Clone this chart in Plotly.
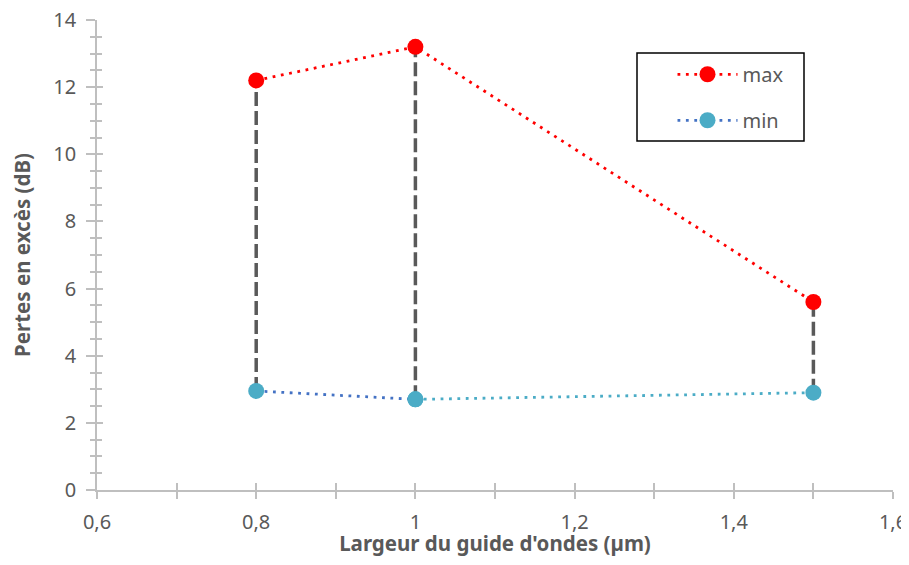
import plotly.graph_objects as go

# Data
widths = [0.8, 1.0, 1.5]
loss_max = [12.2, 13.2, 5.6]
loss_min = [2.95, 2.7, 2.9]

x_tickvals = [0.6, 0.8, 1.0, 1.2, 1.4, 1.6]
y_tickvals = [0, 2, 4, 6, 8, 10, 12, 14]

RED = "#FF0000"
BLUE = "#4472C4"
TEAL = "#4BACC6"
GRAY = "#595959"
AXIS = "#BFBFBF"
FONT = "Noto Sans"

fig = go.Figure()

# high-low connector lines
hx, hy = [], []
for xv, lo, hi in zip(widths, loss_min, loss_max):
    hx += [xv, xv, None]
    hy += [lo, hi, None]
fig.add_trace(go.Scatter(x=hx, y=hy, mode="lines", showlegend=False, hoverinfo="skip",
                         line=dict(color=GRAY, width=3.5, dash="14px,5px")))

# max series
fig.add_trace(go.Scatter(x=widths, y=loss_max, mode="lines+markers", name="max",
                         legendgroup="a",
                         line=dict(color=RED, width=2.8, dash="2.8px,5.6px"),
                         marker=dict(color=RED, size=16)))

# min series (teal segment part)
fig.add_trace(go.Scatter(x=widths[1:], y=loss_min[1:], mode="lines+markers", showlegend=False,
                         legendgroup="b", hoverinfo="skip",
                         line=dict(color=TEAL, width=2.8, dash="2.8px,5.6px"),
                         marker=dict(color=TEAL, size=16)))
fig.add_trace(go.Scatter(x=widths[:2], y=loss_min[:2], mode="lines+markers", name="min",
                         legendgroup="b",
                         line=dict(color=BLUE, width=2.8, dash="2.8px,5.6px"),
                         marker=dict(color=TEAL, size=16)))

# dummy trace for the overlay axes (inside half of crossing ticks)
fig.add_trace(go.Scatter(x=[None], y=[None], xaxis="x2", yaxis="y2", showlegend=False,
                         hoverinfo="skip"))

tickfont = dict(family=FONT, size=20, color=GRAY)
titlefont = dict(family=FONT, size=20.5, color=GRAY, weight="bold")

# page body has an 8px default margin: figure is sized/offset to compensate
fig.update_layout(
    width=901, height=549,
    margin=dict(l=89, r=16, t=12, b=67),
    paper_bgcolor="white", plot_bgcolor="white",
    separators=", ",
    showlegend=True,
    legend=dict(x=0.723, y=0.926, xanchor="left", yanchor="top",
                font=dict(family=FONT, size=20, color=GRAY),
                bgcolor="rgba(0,0,0,0)", borderwidth=0,
                tracegroupgap=17, itemwidth=60),
    xaxis=dict(range=[0.6, 1.6], tickvals=x_tickvals, showgrid=False, zeroline=False,
               automargin=False, ticklabeloverflow="allow",
               showline=True, linecolor=AXIS, linewidth=1.5,
               ticks="outside", ticklen=7, tickwidth=1.5, tickcolor=AXIS,
               minor=dict(dtick=0.1, tick0=0.6, ticks="outside", ticklen=7, tickwidth=1.5,
                          tickcolor=AXIS, showgrid=False),
               tickfont=tickfont, ticklabelstandoff=6,
               title=dict(text="Largeur du guide d'ondes (µm)", font=titlefont, standoff=6)),
    yaxis=dict(range=[0, 14], tickvals=y_tickvals, showgrid=False, zeroline=False,
               automargin=False, ticklabeloverflow="allow",
               showline=True, linecolor=AXIS, linewidth=1.5,
               ticks="outside", ticklen=9, tickwidth=1.5, tickcolor=AXIS,
               minor=dict(dtick=0.5, tick0=0, ticks="outside", ticklen=5, tickwidth=1.5,
                          tickcolor=AXIS, showgrid=False),
               tickfont=tickfont, ticklabelstandoff=6,
               title=dict(text="Pertes en excès (dB)", font=titlefont, standoff=20)),
    xaxis2=dict(overlaying="x", range=[0.6, 1.6], tickvals=x_tickvals, showgrid=False,
                automargin=False,
                zeroline=False, showline=False, showticklabels=False,
                ticks="inside", ticklen=7, tickwidth=1.5, tickcolor=AXIS, side="bottom",
                minor=dict(dtick=0.1, tick0=0.6, ticks="inside", ticklen=7, tickwidth=1.5,
                           tickcolor=AXIS, showgrid=False)),
    yaxis2=dict(overlaying="y", range=[0, 14], tickvals=y_tickvals, showgrid=False,
                automargin=False,
                zeroline=False, showline=False, showticklabels=False,
                ticks="inside", ticklen=6, tickwidth=1.5, tickcolor=AXIS, side="left",
                minor=dict(dtick=0.5, tick0=0, ticks="inside", ticklen=5, tickwidth=1.5,
                           tickcolor=AXIS, showgrid=False)),
    shapes=[dict(type="rect", xref="paper", yref="paper",
                 x0=(637 - 97) / 796, x1=(804 - 97) / 796,
                 y0=(490 - 141) / 470, y1=(490 - 53) / 470,
                 line=dict(color="black", width=1.5), fillcolor="rgba(0,0,0,0)", layer="above")],
)

fig.write_html("out.html")
